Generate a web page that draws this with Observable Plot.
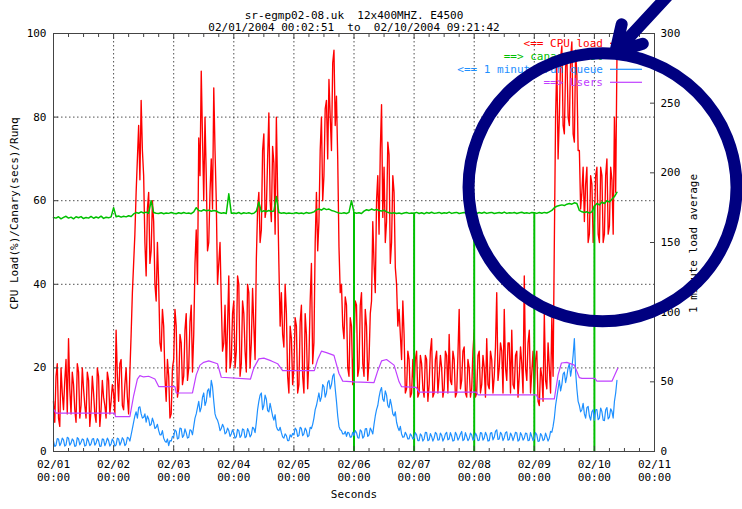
<!DOCTYPE html>
<html><head><meta charset="utf-8">
<script src="https://cdn.jsdelivr.net/npm/d3@7"></script>
<script src="https://cdn.jsdelivr.net/npm/@observablehq/plot@0.6"></script>
<style>
html,body{margin:0;padding:0;background:#fff;}
svg text{white-space:pre;}
</style></head><body><div id="chart"></div>
<script>
// ---------- data ----------
const titleLine1 = "sr-egmp02-08.uk  12x400MHZ. E4500";
const titleLine2 = "02/01/2004 00:02:51  to  02/10/2004 09:21:42";
const yLabel = "CPU Load(%)/Canary(secs)/Runq";
const y2Label = "1 minute load average";
const xLabel = "Seconds";
const dayLabels = ["02/01","02/02","02/03","02/04","02/05","02/06","02/07","02/08","02/09","02/10","02/11"];
const timeLabel = "00:00";
const leftTicks = [0,20,40,60,80,100];
const rightTicks = [0,50,100,150,200,250,300];
const gridValues = [20,40,60,80];
const seriesStart = "02/01 00:00";   // samples on the hour, plus half-hour samples

// CPU load (%), on the hour, left axis
const cpuLoad = [
12,18,8,20,10,22,27,9,16,7,19,11,15,8,17,10,14,7,18,10,13,8,17,12,
14,29,12,22,10,20,9,28,45,62,78,84,66,42,62,48,55,36,40,24,30,12,18,9,
22,30,15,26,18,33,20,35,28,53,75,91,60,66,50,70,87,60,45,36,26,19,42,22,
36,24,40,21,33,19,38,26,30,46,62,53,76,58,81,55,69,80,45,38,25,33,14,27,
20,30,16,35,14,28,22,45,26,62,55,80,66,84,89,72,96,85,49,40,27,35,18,30,
25,35,20,38,18,30,22,36,45,60,52,83,68,55,71,50,62,40,34,22,28,15,22,14,
15,24,14,21,13,22,16,27,14,24,18,20,15,23,28,16,22,14,34,17,25,13,20,15,
29,14,24,16,20,27,15,22,18,38,20,24,34,17,26,29,15,24,18,21,42,17,29,19,
14,24,11,18,33,15,20,32,50,93,80,97,76,95,78,98,74,90,72,62,55,68,52,64,
55,68,50,66,52,70,54,65,80,94];
// CPU load (%), on the half hour
const cpuLoadHalf = [
7,21,6,14,17,9,15,19,10,21,8,20,11,19,6,18,9,20,6,17,11,19,9,16,
9,18,21,11,16,13,19,38,52,70,65,72,50,58,45,60,40,50,26,34,18,22,8,20,
34,13,28,16,29,17,31,19,45,40,66,75,80,48,62,58,72,40,50,24,35,30,20,33,
20,42,18,36,24,40,20,39,22,58,50,72,56,70,60,73,52,62,30,28,40,18,30,16,
32,14,31,18,33,15,36,21,50,48,72,60,82,70,80,93,78,70,38,30,37,20,32,16,
36,18,35,21,34,17,33,55,38,66,72,56,50,74,45,66,44,30,28,36,14,24,13,22,
22,13,23,15,23,12,24,13,22,14,23,13,24,14,17,24,13,23,15,24,14,22,13,24,
13,23,14,23,13,16,24,14,25,17,26,14,20,26,14,16,23,13,25,14,20,26,14,24,
22,12,20,12,17,26,14,18,80,70,94,78,92,80,94,76,96,72,58,68,64,50,66,50,
66,52,68,50,66,52,68,52,62];

// 1 minute run queue, on the hour, left axis
const runQueue = [
2.5,1.5,3,2,2.8,1.6,3.2,2,2.6,1.4,3,2.2,2.8,1.5,2.5,1.8,3.1,2,2.6,1.3,2.9,2.1,2.6,1.8,
2.4,1.6,3,2.2,2.8,1.8,3.2,4,7,9.5,10.5,9,8.2,7,7.8,6.5,7,5.8,5,4,3.2,2.2,1.4,2.5,
3.5,4.8,3.2,5.5,3.8,4.5,3.4,5,6,9,12,10.5,14,12,15,17,12,8,6.5,5.5,5.8,4.5,5,4.2,
4.5,3.5,5,3.8,5.2,3.6,4.8,4,5.5,7,12,14,11,12.5,9.5,10,7.5,6,5,4.5,3.2,3.8,2.6,3.5,
4,5.2,3.8,5.5,4.2,5,3.8,5.5,8,11,14,13,15.5,14,17,16,18.6,12,6,5,4.2,3.6,4.4,3.5,
3.8,4.5,3.2,4.8,3.6,5.5,4,5,6.5,10,13,15.3,12,13.5,10.5,11,8.5,7,5,4.2,3.5,4,3,3.8,
3.2,4,2.6,3.8,3,4.5,2.8,3.6,3.2,4.2,2.8,3.9,3.1,4.6,3,3.7,2.7,4,3.3,4.8,2.9,3.6,3.1,4,
3,3.8,2.7,4.4,3.2,3.9,2.6,4.5,3.4,5.2,3,4.1,3.3,4.7,2.9,3.8,3.5,4.4,2.8,3.9,3.2,4.3,2.7,3.6,
3.1,4,2.5,3.8,2.9,3.5,3.2,4.6,8,13,17,16,19,18,21,20,27,15,11,10,9,10.5,8.5,9.5,
7.5,10,8,9.5,7.4,10.5,8.2,9.6,12,17];
// 1 minute run queue, on the half hour
const runQueueHalf = [
1.2,3.1,1.4,3.2,1.3,3.4,1.5,3,1.2,3.3,1.6,3,1.3,3.2,1.4,3,1.5,3.1,1.2,3,1.4,3.2,1.3,3,
1.3,3.2,1.5,3.3,1.4,3.4,2.5,5.5,8.5,8,10.7,8,9,8.5,6.2,8,5.5,6.5,4,5,2.5,3,2.6,3.6,
5.2,3,5.6,3.4,5.4,3.2,5.2,4,8,10.5,9.5,13,11,14.5,13,15.5,9,7.5,5,6.5,4.2,5.6,3.6,5.2,
3.2,5.3,3.4,5.4,3.3,5.5,3.5,5.8,4.5,10,13.5,10,13.5,9.8,11.5,8.5,8.8,5.2,5.8,3.5,4.2,2.6,4,4.3,
5.6,3.6,5.8,3.8,5.6,3.5,5.8,6.5,10,12.5,12,16,13,16.5,15,18,15,8.5,5.2,4.2,4.8,4.6,3.4,4.6,
5,3.3,5.2,3.2,5.4,3.6,5.6,4.2,8.5,11,14.5,12.5,14.5,11,12.5,9,9.5,5.8,6,3.4,4.6,3,4.2,3,
4.5,2.6,4.2,2.5,4.6,2.6,4.3,2.5,4.6,2.7,4.4,2.5,4.2,2.8,4.5,2.5,4.6,2.7,4.2,2.6,4.5,2.6,4.4,2.7,
4.4,2.6,4.5,2.7,4.6,2.5,4.4,2.8,4.8,2.9,4.6,2.6,4.5,2.7,4.4,2.6,4.6,2.5,4.5,2.7,4.4,2.6,4.5,2.6,
4.5,2.4,4.3,2.6,4.4,2.5,4.8,6,11,15,14.5,18.5,16.5,20,18,23,19,12,9.5,11.5,8,10.8,7.5,10,
10,7.6,10.4,7.5,10,7.8,10.2,8,14];

// canary test, on the hour, right axis units
const canaryTest = [
168,167.5,168.5,167,168,168.8,167.5,168.2,167,168.5,167.8,168.6,167.2,168,167.5,168.7,167.4,168.3,167.6,168.9,167.3,168.1,167.7,168.4,
175,168.5,169,168.2,168.8,168.4,169.2,168.6,170.5,171.5,171,172,171.2,171.8,171,180,171.5,171,170.8,171.4,170.6,171.2,170.9,171.5,
171,170.6,171.3,170.8,171.5,170.9,171.2,170.7,172,175,173,172.5,173.5,172.8,173.2,172.4,173,172.6,171.5,171,171.4,170.8,185,171,
171.2,170.8,171.5,170.6,171.3,170.9,171.4,170.7,171,172.5,179,172,172.8,172.3,173,172.2,172.6,183,171.5,171,171.3,170.8,171.2,170.9,
171,171.4,170.8,171.2,170.7,171.5,171,171.3,172,173.5,174,173.2,174.5,173.6,174,173,172.5,171.8,171.2,170.9,171.4,170.8,171.6,180,
171.5,171,171.4,170.8,172.5,173.5,173,174,173.2,173.8,173,172.6,173.2,172,171.4,171,171.3,170.8,171.2,170.7,171.1,171.5,170.9,171.2,
171,171.6,170.8,171.3,170.6,171.5,171,171.7,170.9,171.2,171.6,170.8,171.4,171,171.8,170.9,171.3,171.6,170.8,171.2,171.5,170.9,171.4,171,
171.2,170.8,171.5,171,171.7,170.9,171.3,171.6,170.8,171.2,171.5,171,171.8,170.9,171.4,171.1,171.6,170.8,171.3,171.7,171,171.4,170.9,171.5,
171.3,170.9,171.5,171,171.6,171.2,172,173,175,176,176.5,177,176.5,177.5,178,177.5,178.5,178,173,172,171.5,172,171.2,172,
176,178,177,179,178,180,179,181,183,186];
// canary test drops to zero
const canaryDropTimes = ["02/06 00:00","02/07 00:00","02/08 00:00","02/09 00:00","02/10 00:00"];
const canaryDropLevels = [171.5,171,171.2,171.3,176];

// Users, right axis units
const usersTimes = ["02/01 00:00","02/01 01:00","02/02 00:30","02/02 00:45","02/02 06:30","02/02 08:00","02/02 09:30","02/02 10:30","02/02 12:00","02/02 14:00","02/02 16:30","02/02 18:00",
"02/03 00:30","02/03 01:00","02/03 07:30","02/03 09:00","02/03 10:30","02/03 12:00","02/03 14:00","02/03 17:30","02/03 19:00",
"02/04 06:40","02/04 08:00","02/04 10:00","02/04 12:00","02/04 15:00","02/04 17:30","02/04 19:30",
"02/05 08:10","02/05 09:30","02/05 11:00","02/05 13:00","02/05 16:00","02/05 18:00","02/05 19:30",
"02/06 00:00","02/06 08:00","02/06 09:30","02/06 11:00","02/06 13:00","02/06 16:00","02/06 18:00","02/06 19:00",
"02/07 00:50","02/07 02:00","02/08 00:50","02/08 01:30","02/09 00:50","02/09 01:30","02/09 08:00","02/09 09:30","02/09 10:50","02/09 13:00","02/09 16:00","02/09 18:00","02/09 19:00",
"02/10 00:10","02/10 01:00","02/10 07:00","02/10 09:20"];
const usersValues = [30.5,27.5,27.5,25,25,40,52,54.5,53.5,54,52,46.6,
46.5,42,42,55,62,64,65,63,53.3,
52,60,66.5,67,65,63,58,
58,66,72,71,69,56,50.5,
50,49.5,58,65,66,62,50,46.5,
46,42.6,42.6,40.7,40.7,37.8,37.8,55,63.5,64,62,53,52.5,
52.5,50.5,50.5,59.8];

const legendLabels = ["<== CPU load","==> canary test","<== 1 minute run queue","==> Users"];
const colors = {cpu:"#ff0000", canary:"#00c000", runq:"#1e90ff", users:"#c040ff", note:"#000080"};

// annotation (circle + arrow) in data units
const noteCircle = {t:"02/10 03:15", v:63.2};
const noteArrow = {t1:"02/12 06:00", v1:125, t2:"02/10 08:20", v2:95.5};

// ---------- build ----------
const parse = s => d3.utcParse("%Y/%m/%d %H:%M")("2004/" + s);
const t0 = parse(seriesStart);
const H = 3600e3;
const samples = [];
cpuLoad.forEach((c, i) => {
  samples.push({t:new Date(+t0 + i*H), cpu:c, runq:runQueue[i]});
  if (i < cpuLoadHalf.length) samples.push({t:new Date(+t0 + i*H + H/2), cpu:cpuLoadHalf[i], runq:runQueueHalf[i]});
});
const canary = canaryTest.map((v,i) => ({t:new Date(+t0 + i*H), v}));
const users = usersTimes.map((s,i) => ({t:parse(s), v:usersValues[i]}));
const drops = canaryDropTimes.map((s,i) => ({t:parse(s), v:canaryDropLevels[i]}));
const k = rightTicks[rightTicks.length-1] / leftTicks[leftTicks.length-1];
const dayTicks = dayLabels.map(s => parse(s + " " + timeLabel));
const labelOf = new Map(dayTicks.map((d,i)=>[+d, dayLabels[i]]));
const minorTicks = d3.utcHour.every(6).range(dayTicks[0], dayTicks[dayTicks.length-1]).filter(d => d.getUTCHours() !== 0);
const font = "DejaVu Sans Mono";
const gridStyle = {stroke:"#333", strokeOpacity:0.85, strokeDasharray:"1.5,2.5", strokeWidth:1};
const none = () => "";
const tickStyle = {tickFormat:none, stroke:"#444", label:null};

const chart = Plot.plot({
  width: 742, height: 509,
  marginLeft: 53, marginRight: 88, marginTop: 33, marginBottom: 58,
  style: {fontFamily: font, fontSize: "11px", background: "#fff", overflow: "visible"},
  x: {type: "utc", domain: [dayTicks[0], dayTicks[dayTicks.length-1]], axis: null, label: null},
  y: {domain: [leftTicks[0], leftTicks[leftTicks.length-1]], axis: null, label: null},
  marks: [
    Plot.gridX(dayTicks.slice(1,-1), gridStyle),
    Plot.gridY(gridValues, gridStyle),
    Plot.line(samples, {x:"t", y:"cpu", stroke:colors.cpu, strokeWidth:1.35}),
    Plot.line(canary, {x:"t", y:d => d.v / k, stroke:colors.canary, strokeWidth:1.5}),
    Plot.ruleX(drops, {x:"t", y1:0, y2:d => d.v / k, stroke:colors.canary, strokeWidth:2}),
    Plot.line(samples, {x:"t", y:"runq", stroke:colors.runq, strokeWidth:1.2}),
    Plot.line(users, {x:"t", y:d => d.v / k, stroke:colors.users, strokeWidth:1.2}),
    Plot.frame({stroke:"#444"}),
    // x axis ticks (inward, bottom and top)
    Plot.axisX(dayTicks, {anchor:"bottom", tickSize:5, dy:-5, ...tickStyle}),
    Plot.axisX(minorTicks, {anchor:"bottom", tickSize:3, dy:-3, ...tickStyle}),
    Plot.axisX(dayTicks, {anchor:"top", tickSize:5, dy:5, ...tickStyle}),
    Plot.axisX(minorTicks, {anchor:"top", tickSize:3, dy:3, ...tickStyle}),
    // x tick labels (two lines)
    Plot.axisX(dayTicks, {anchor:"bottom", tickSize:0, tickPadding:9, tickFormat:d => labelOf.get(+d), label:null}),
    Plot.axisX(dayTicks, {anchor:"bottom", tickSize:0, tickPadding:22, tickFormat:() => timeLabel, label:null}),
    // left axis
    Plot.axisY(leftTicks, {anchor:"left", tickSize:5, dx:5, ...tickStyle}),
    Plot.axisY(leftTicks, {anchor:"left", tickSize:0, tickPadding:7, label:null}),
    // right axis (y2)
    Plot.axisY(rightTicks.map(v => v / k), {anchor:"right", tickSize:5, dx:-5, ...tickStyle}),
    Plot.axisY(rightTicks.map(v => v / k), {anchor:"right", tickSize:0, tickPadding:6, tickFormat:d => String(Math.round(d * k)), label:null}),
    // titles & labels
    Plot.text([titleLine1], {frameAnchor:"top", dy:-22}),
    Plot.text([titleLine2], {frameAnchor:"top", dy:-10}),
    Plot.text([yLabel], {frameAnchor:"left", textAnchor:"middle", dx:-39, dy:-29, rotate:-90}),
    Plot.text([y2Label], {frameAnchor:"right", textAnchor:"middle", dx:39, dy:1, rotate:-90}),
    Plot.text([xLabel], {frameAnchor:"bottom", dy:46}),
    // annotation
    Plot.dot([noteCircle], {x:d => parse(d.t), y:"v", r:134, stroke:colors.note, strokeWidth:12, fill:"none"}),
    Plot.arrow([noteArrow], {x1:d => parse(d.t1), y1:"v1", x2:d => parse(d.t2), y2:"v2", stroke:colors.note, strokeWidth:12, headLength:3.6, headAngle:60})
  ]
});
document.getElementById("chart").appendChild(chart);

// legend (inside plot, top right), inserted beneath the annotation
const svg = d3.select(chart);
const right = 742 - 88;
const legendColors = [colors.cpu, colors.canary, colors.runq, colors.users];
const lg = svg.insert("g", "g[aria-label='dot']").attr("font-family", font).attr("font-size", 11);
legendLabels.forEach((lab, i) => {
  const y = 33 + 10.3 + 13 * i;
  lg.append("text").attr("x", right - 51).attr("y", y).attr("dy", "0.35em").attr("text-anchor", "end").attr("fill", legendColors[i]).text(lab);
  lg.append("line").attr("x1", right - 44).attr("x2", right - 12).attr("y1", y).attr("y2", y).attr("stroke", legendColors[i]).attr("stroke-width", 1.2);
});
</script></body></html>
